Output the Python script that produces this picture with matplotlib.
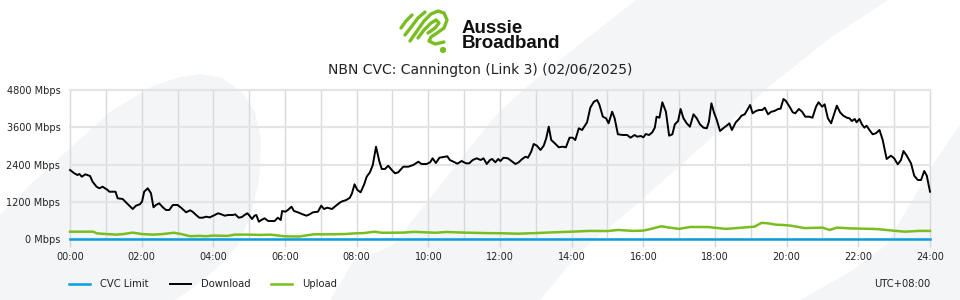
import matplotlib
matplotlib.use("Agg")
import matplotlib.pyplot as plt
from matplotlib.patches import Polygon, Circle
import numpy as np

# ---------------- data ----------------
title = "NBN CVC: Cannington (Link 3) (02/06/2025)"
x_tick_hours = list(range(0, 25, 2))
x_tick_labels = [f"{h:02d}:00" for h in x_tick_hours]
y_ticks = [0, 1200, 2400, 3600, 4800]
y_tick_labels = [f"{v} Mbps" for v in y_ticks]

dl_t = [0.00, 0.12, 0.21, 0.26, 0.33, 0.43, 0.56, 0.63, 0.74, 0.82, 0.91, 1.05, 1.10, 1.27, 1.33, 1.47,
        1.56, 1.75, 1.84, 1.95, 2.01, 2.07, 2.17, 2.26, 2.33, 2.40, 2.49, 2.59, 2.68, 2.77, 2.87, 3.00,
        3.10, 3.24, 3.35, 3.42, 3.52, 3.61, 3.70, 3.80, 3.90, 4.04, 4.13, 4.22, 4.32, 4.41, 4.55, 4.61,
        4.71, 4.80, 4.87, 4.95, 5.01, 5.08, 5.15, 5.20, 5.27, 5.34, 5.43, 5.53, 5.62, 5.71, 5.80, 5.88,
        5.92, 6.01, 6.08, 6.18, 6.25, 6.36, 6.47, 6.60, 6.69, 6.78, 6.92, 7.01, 7.09, 7.18, 7.31, 7.39,
        7.48, 7.57, 7.71, 7.81, 7.87, 7.94, 8.02, 8.11, 8.21, 8.28, 8.37, 8.45, 8.54, 8.63, 8.70, 8.79,
        8.88, 8.98, 9.07, 9.16, 9.30, 9.44, 9.58, 9.72, 9.81, 9.95, 10.05, 10.12, 10.21, 10.31, 10.42,
        10.53, 10.60, 10.70, 10.81, 10.93, 11.05, 11.14, 11.24, 11.35, 11.46, 11.54, 11.63, 11.72, 11.78,
        11.87, 11.95, 12.01, 12.10, 12.22, 12.32, 12.43, 12.52, 12.62, 12.71, 12.78, 12.87, 12.94, 13.03,
        13.13, 13.22, 13.29, 13.36, 13.43, 13.53, 13.64, 13.75, 13.84, 13.94, 14.03, 14.10, 14.20, 14.29,
        14.43, 14.52, 14.62, 14.71, 14.77, 14.87, 14.96, 15.03, 15.13, 15.20, 15.29, 15.43, 15.55, 15.64,
        15.76, 15.83, 15.93, 16.00, 16.07, 16.16, 16.25, 16.32, 16.37, 16.45, 16.53, 16.63, 16.72, 16.81,
        16.88, 16.97, 17.04, 17.12, 17.21, 17.30, 17.40, 17.49, 17.58, 17.68, 17.77, 17.83, 17.90, 17.97,
        18.05, 18.14, 18.25, 18.35, 18.40, 18.47, 18.58, 18.67, 18.74, 18.83, 18.90, 18.98, 19.05, 19.14,
        19.23, 19.32, 19.39, 19.48, 19.57, 19.66, 19.76, 19.83, 19.91, 19.98, 20.08, 20.17, 20.24, 20.34,
        20.43, 20.52, 20.63, 20.72, 20.82, 20.89, 20.99, 21.06, 21.15, 21.24, 21.30, 21.40, 21.49, 21.58,
        21.68, 21.75, 21.82, 21.90, 21.95, 22.03, 22.10, 22.17, 22.23, 22.31, 22.40, 22.49, 22.59, 22.68,
        22.79, 22.91, 23.00, 23.10, 23.19, 23.26, 23.35, 23.47, 23.56, 23.66, 23.75, 23.84, 23.91, 24.00]
dl_v = [2228, 2122, 2067, 2100, 2013, 2090, 2035, 1852, 1691, 1640, 1691, 1585, 1530, 1530, 1318, 1296,
        1190, 974, 1080, 1125, 1209, 1530, 1640, 1479, 1029, 1103, 1157, 1029, 942, 942, 1103, 1103,
        1016, 868, 932, 887, 781, 694, 694, 727, 705, 781, 836, 804, 759, 781, 781, 804,
        694, 717, 781, 836, 759, 653, 759, 781, 566, 620, 675, 588, 588, 588, 694, 620,
        910, 887, 942, 1048, 910, 868, 813, 759, 804, 868, 887, 1080, 974, 1016, 974, 1048,
        1135, 1209, 1263, 1337, 1479, 1768, 1585, 1511, 1768, 2013, 2154, 2389, 2977, 2517, 2260, 2260,
        2366, 2228, 2122, 2154, 2334, 2334, 2389, 2495, 2421, 2421, 2475, 2604, 2453, 2623, 2646,
        2668, 2549, 2495, 2431, 2517, 2443, 2443, 2549, 2604, 2549, 2604, 2421, 2549, 2582,
        2475, 2582, 2517, 2623, 2604, 2517, 2421, 2475, 2582, 2656, 2623, 2816, 3064, 3009,
        2871, 3009, 3247, 3620, 3192, 3086, 2958, 2977, 2958, 3266, 3266, 3192, 3569, 3514,
        3762, 4231, 4424, 4478, 4340, 3942, 3890, 3729, 4102, 3890, 3376, 3353, 3353, 3266,
        3353, 3299, 3321, 3279, 3385, 3353, 3440, 3588, 3942, 3910, 4405, 4102, 3331, 3376,
        3697, 3803, 4189, 3890, 3729, 3620, 4019, 3890, 3697, 3588, 3569, 3781, 4372, 4083,
        3836, 3482, 3588, 3675, 3729, 3514, 3762, 3868, 3974, 4019, 4157, 4318, 4051, 4125,
        4157, 4157, 4231, 4019, 4102, 4125, 4189, 4200, 4511, 4446, 4264, 4083, 4051, 4189,
        4102, 3942, 3942, 3910, 4264, 4405, 4264, 4340, 3890, 3729, 3942, 4296, 4083, 3974,
        3910, 3890, 3803, 3868, 3762, 3868, 3697, 3588, 3652, 3514, 3376, 3408, 3514, 3192,
        2582, 2688, 2604, 2411, 2549, 2839, 2688, 2443, 2045, 1906, 1906, 2196, 2045, 1530]

ul_t = [0.0, 0.65, 0.75, 1.0, 1.3, 1.5, 1.75, 2.0, 2.3, 2.55, 2.9, 3.1, 3.35, 3.6, 3.8, 4.0, 4.4, 4.6,
        5.0, 5.3, 5.6, 6.0, 6.4, 6.8, 7.3, 7.7, 8.0, 8.2, 8.5, 8.7, 9.3, 9.6, 10.2, 10.5, 11.0, 11.6,
        12.0, 12.5, 13.0, 13.5, 14.0, 14.5, 15.0, 15.3, 15.7, 16.0, 16.2, 16.5, 16.7, 17.0, 17.3, 17.8,
        18.3, 18.7, 19.1, 19.3, 19.5, 19.7, 19.9, 20.1, 20.5, 21.0, 21.2, 21.4, 21.8, 22.5, 23.0, 23.3,
        23.7, 24.0]
ul_v = [245, 245, 190, 170, 150, 170, 215, 170, 150, 165, 210, 170, 100, 110, 100, 120, 110, 150,
        150, 140, 150, 95, 90, 160, 160, 170, 195, 200, 245, 210, 215, 240, 210, 235, 215, 200,
        195, 180, 200, 225, 245, 270, 265, 300, 270, 280, 330, 420, 380, 335, 395, 395,
        335, 370, 405, 530, 510, 470, 460, 440, 360, 375, 300, 375, 350, 330, 275, 245,
        270, 270]

cvc_t = [0.0, 24.0]
cvc_v = [0, 0]

series_names = ["CVC Limit", "Download", "Upload"]
series_colors = ["#0a9ee0", "#000000", "#78be20"]

# ---------------- figure ----------------
W, H = 960, 300
fig = plt.figure(figsize=(W / 100, H / 100), dpi=100)
fig.patch.set_facecolor("white")

# background decoration axes in pixel coords
bg = fig.add_axes([0, 0, 1, 1], zorder=0)
bg.set_xlim(0, W)
bg.set_ylim(H, 0)
bg.axis("off")
gray = "#f4f5f7"
blob = [(0, 300), (0, 215), (30, 185), (66, 152), (110, 112), (153, 86), (180, 77), (200, 74),
        (222, 78), (242, 92), (255, 112), (261, 140), (259, 180), (251, 215), (238, 245),
        (215, 270), (190, 290), (175, 300)]
band = [(330, 300), (353, 262), (393, 245), (496, 115), (529, 85), (575, 48), (636, 0),
        (888, 0), (830, 38), (771, 85), (700, 148), (638, 203), (580, 252), (540, 300)]
band2 = [(800, 300), (850, 272), (886, 245), (936, 160), (960, 125), (960, 300)]
for pts in (blob, band, band2):
    bg.add_patch(Polygon(pts, closed=True, facecolor=gray, edgecolor="none"))

# logo icon
green = "#78be20"
strokes = [
    [(401, 28), (406, 21), (412, 15)],
    [(405, 35), (412, 26), (418, 18), (425, 12)],
    [(410, 41), (417, 31), (424, 21), (431, 14), (438, 11), (444, 13), (447, 20), (444, 28),
     (437, 33), (431, 37), (429, 41), (435, 44), (444, 42)],
    [(418, 38), (424, 30), (431, 23), (436, 20), (439, 23), (435, 28), (428, 33)],
]
for s in strokes:
    xs, ys = zip(*s)
    bg.plot(xs, ys, color=green, lw=2.4, solid_capstyle="round", solid_joinstyle="round")
bg.add_patch(Circle((443, 50), 2.4, color=green))
bg.text(462, 47.5, "Aussie\nBroadband", fontsize=13.5, fontweight="bold", family="Liberation Sans",
        va="baseline", ha="left", color="#111111", linespacing=0.82)
bg.text(480, 70, title, fontsize=10, ha="center", va="center", color="#222222")

# main axes
left, right = 70 / W, 930 / W
bottom, top = 1 - 239.3 / H, 1 - 90 / H
ax = fig.add_axes([left, bottom, right - left, top - bottom], zorder=1)
ax.patch.set_alpha(0)
for sp in ax.spines.values():
    sp.set_visible(False)

ax.set_xlim(0, 24)
ax.set_ylim(0, 4800)
ax.set_xticks(x_tick_hours)
ax.set_xticklabels(x_tick_labels)
ax.set_yticks(y_ticks)
ax.set_yticklabels(y_tick_labels)
ax.tick_params(axis="x", which="major", length=6, width=1, color="#d6d6d6", pad=3.5,
               labelsize=7, labelcolor="#222222")
ax.tick_params(axis="y", length=0, pad=7, labelsize=7, labelcolor="#222222")

for h in range(0, 25):
    ax.axvline(h, color="#d9d9d9", lw=1.0, clip_on=False, zorder=0.5)
for v in y_ticks:
    ax.axhline(v, color="#e4e4e4", lw=1.6, clip_on=False, zorder=0.6)

l1, = ax.plot(cvc_t, cvc_v, color=series_colors[0], lw=1.8, clip_on=False, label=series_names[0], zorder=3)
l2, = ax.plot(dl_t, dl_v, color=series_colors[1], lw=1.4, clip_on=False, label=series_names[1], zorder=3)
l3, = ax.plot(ul_t, ul_v, color=series_colors[2], lw=1.8, clip_on=False, label=series_names[2], zorder=3)

leg = fig.legend(handles=[l1, l2, l3], loc="center left", bbox_to_anchor=(69 / W, 1 - 284 / H),
                 ncol=3, frameon=False, fontsize=7.2, handlelength=2.1, handletextpad=1.0,
                 columnspacing=2.1, borderaxespad=0, borderpad=0)
for t in leg.get_texts():
    t.set_color("#222222")

fig.text(930 / W, 1 - 284 / H, "UTC+08:00", fontsize=7.2, ha="right", va="center", color="#222222")

fig.savefig("out.png", dpi=100, facecolor=fig.get_facecolor())
